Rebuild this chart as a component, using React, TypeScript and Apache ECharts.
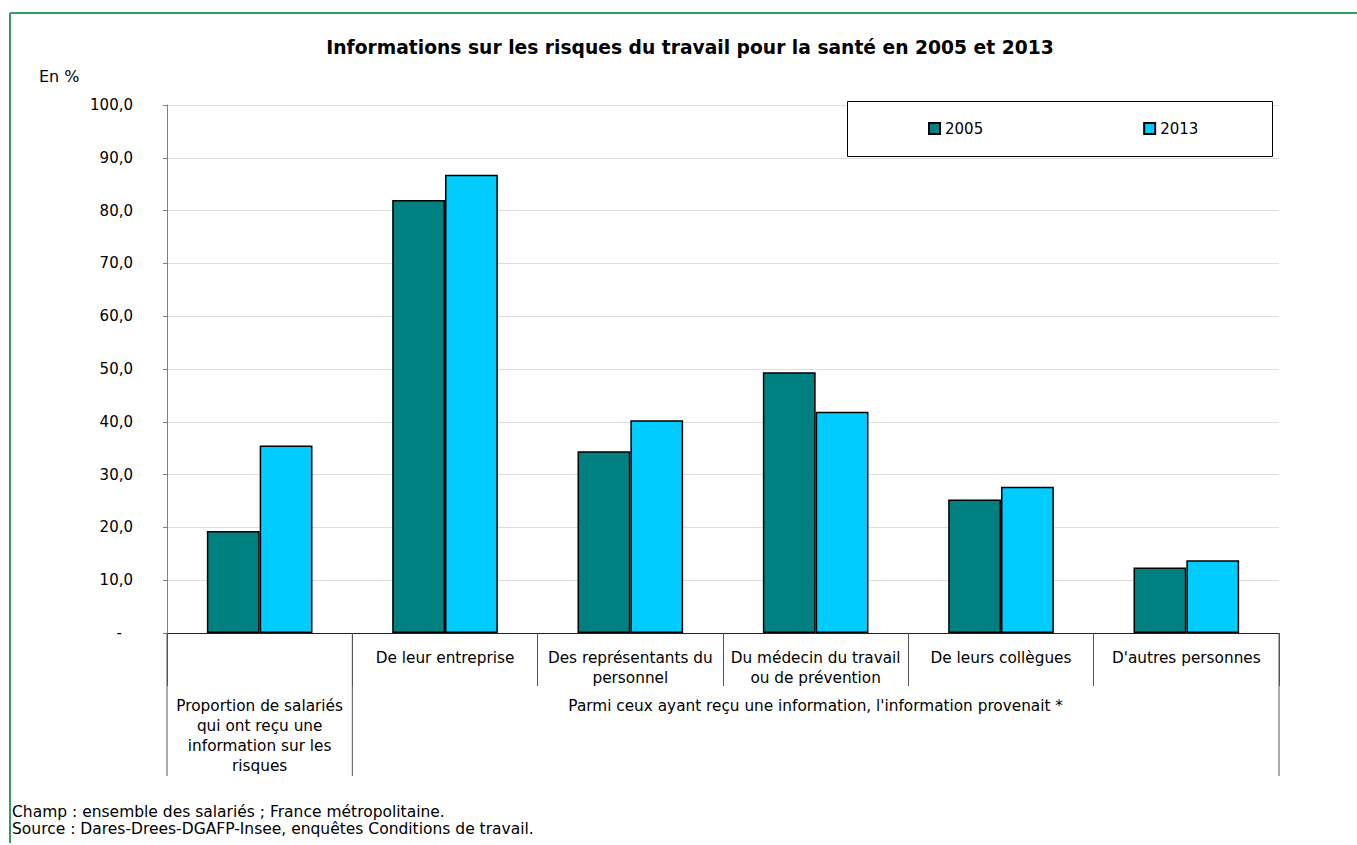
import React, { useEffect, useRef } from "react";
import * as echarts from "echarts";

const categories = [
  "Proportion de salariés qui ont reçu une information sur les risques",
  "De leur entreprise",
  "Des représentants du personnel",
  "Du médecin du travail ou de prévention",
  "De leurs collègues",
  "D'autres personnes",
];
const axisLabels = [
  "",
  "De leur entreprise",
  "Des représentants du\npersonnel",
  "Du médecin du travail\nou de prévention",
  "De leurs collègues",
  "D'autres personnes",
];
const firstGroupLabel = "Proportion de salariés\nqui ont reçu une\ninformation sur les\nrisques";
const secondGroupLabel = "Parmi ceux ayant reçu une information, l'information provenait *";
const values2005 = [19.3, 82.0, 34.4, 49.4, 25.3, 12.4];
const values2013 = [35.5, 86.8, 40.3, 41.9, 27.7, 13.8];
const seriesNames = ["2005", "2013"];
const title = "Informations sur les risques du travail pour la santé en 2005 et 2013";
const unitLabel = "En %";
const notes = [
  "Champ : ensemble des salariés ; France métropolitaine.",
  "Source : Dares-Drees-DGAFP-Insee, enquêtes Conditions de travail.",
];

const FONT = "DejaVu Sans";
const W = 1357;
const H = 845;
const GRID_LEFT = 167;
const GRID_RIGHT = 78;
const GRID_TOP = 105;
const GRID_BOTTOM = 212;
const LABEL_SIZE = 15.3;

export default function App() {
  const ref = useRef<HTMLDivElement>(null);
  useEffect(() => {
    if (!ref.current) return;
    const chart = echarts.init(ref.current, null, { renderer: "svg" });
    const gridW = W - GRID_LEFT - GRID_RIGHT;
    const catW = gridW / categories.length;
    const axisY = H - GRID_BOTTOM;
    const xRight = W - GRID_RIGHT;
    const sepColor = "#555555";
    const option: any = {
      animation: false,
      backgroundColor: "#ffffff",
      textStyle: { fontFamily: FONT },
      grid: {
        left: GRID_LEFT,
        right: GRID_RIGHT,
        top: GRID_TOP,
        bottom: GRID_BOTTOM,
        containLabel: false,
        outerBoundsMode: "none",
      },
      legend: {
        data: seriesNames,
        left: 928,
        top: 121,
        padding: 0,
        itemWidth: 11,
        itemHeight: 11,
        itemGap: 160,
        icon: "rect",
        textStyle: { fontFamily: FONT, fontSize: 15, color: "#000" },
      },
      xAxis: {
        type: "category",
        data: categories,
        axisLine: { show: true, lineStyle: { color: "#222", width: 1 } },
        axisTick: {
          show: true,
          length: 53,
          interval: 0,
          lineStyle: { color: sepColor, width: 1 },
        },
        axisLabel: {
          interval: 0,
          margin: 15,
          fontFamily: FONT,
          fontSize: LABEL_SIZE,
          lineHeight: 20,
          color: "#000",
          formatter: (_v: string, i: number) => axisLabels[i],
        },
        splitLine: { show: false },
      },
      yAxis: {
        type: "value",
        min: 0,
        max: 100,
        interval: 10,
        axisLine: { show: true, lineStyle: { color: "#808080", width: 1 } },
        axisTick: { show: true, length: 4, lineStyle: { color: "#808080" } },
        splitLine: { show: true, lineStyle: { color: "#dddddd", width: 1 } },
        axisLabel: {
          margin: 34,
          fontFamily: FONT,
          fontSize: 15,
          color: "#000",
          formatter: (v: number) =>
            v === 0 ? "{z|-}" : v.toFixed(1).replace(".", ","),
          rich: {
            z: { fontFamily: FONT, fontSize: 15, color: "#000", padding: [0, 11, 0, 0] },
          },
        },
      },
      series: [
        {
          name: seriesNames[0],
          type: "bar",
          data: values2005,
          barGap: "0%",
          barCategoryGap: "43%",
          itemStyle: { color: "#008080", borderColor: "#000", borderWidth: 1.5 },
        },
        {
          name: seriesNames[1],
          type: "bar",
          data: values2013,
          barGap: "0%",
          barCategoryGap: "43%",
          itemStyle: { color: "#00CCFF", borderColor: "#000", borderWidth: 1.5 },
        },
      ],
      graphic: [
        // outer green frame (top and left edges)
        { type: "line", z: 10, shape: { x1: 10, y1: 13, x2: W, y2: 13 }, style: { stroke: "#339966", lineWidth: 2 } },
        { type: "line", z: 10, shape: { x1: 10, y1: 13, x2: 10, y2: 843 }, style: { stroke: "#339966", lineWidth: 2 } },
        // title
        {
          type: "text",
          x: 690,
          y: 47,
          style: {
            text: title,
            fontFamily: FONT,
            fontSize: 18.7,
            fontWeight: "bold",
            fill: "#000",
            align: "center",
            verticalAlign: "middle",
          },
        },
        {
          type: "text",
          x: 39,
          y: 76,
          style: { text: unitLabel, fontFamily: FONT, fontSize: 16, fill: "#000", verticalAlign: "middle" },
        },
        // legend box
        {
          type: "rect",
          z: 3,
          shape: { x: 847.5, y: 101.5, width: 425, height: 55 },
          style: { fill: "#fff", stroke: "#000", lineWidth: 1 },
        },
        // long separators for the second level of the category axis
        { type: "line", z: 5, shape: { x1: GRID_LEFT, y1: axisY, x2: GRID_LEFT, y2: 776 }, style: { stroke: sepColor, lineWidth: 1 } },
        { type: "line", z: 5, shape: { x1: GRID_LEFT + catW, y1: axisY, x2: GRID_LEFT + catW, y2: 776 }, style: { stroke: sepColor, lineWidth: 1 } },
        { type: "line", z: 5, shape: { x1: xRight, y1: axisY, x2: xRight, y2: 776 }, style: { stroke: sepColor, lineWidth: 1 } },
        {
          type: "text",
          x: GRID_LEFT + catW / 2,
          y: 696,
          style: {
            text: firstGroupLabel,
            fontFamily: FONT,
            fontSize: LABEL_SIZE,
            lineHeight: 20,
            fill: "#000",
            align: "center",
            verticalAlign: "top",
          },
        },
        {
          type: "text",
          x: (GRID_LEFT + catW + xRight) / 2,
          y: 696,
          style: {
            text: secondGroupLabel,
            fontFamily: FONT,
            fontSize: LABEL_SIZE,
            lineHeight: 20,
            fill: "#000",
            align: "center",
            verticalAlign: "top",
          },
        },
        {
          type: "text",
          x: 12,
          y: 812,
          style: { text: notes[0], fontFamily: FONT, fontSize: 15.5, fill: "#000", verticalAlign: "middle" },
        },
        {
          type: "text",
          x: 12,
          y: 829,
          style: { text: notes[1], fontFamily: FONT, fontSize: 15.5, fill: "#000", verticalAlign: "middle" },
        },
      ],
    };
    chart.setOption(option);
    return () => chart.dispose();
  }, []);
  return (
    <div
      ref={ref}
      style={{ position: "absolute", left: 0, top: 0, width: W, height: H, background: "#fff" }}
    />
  );
}
